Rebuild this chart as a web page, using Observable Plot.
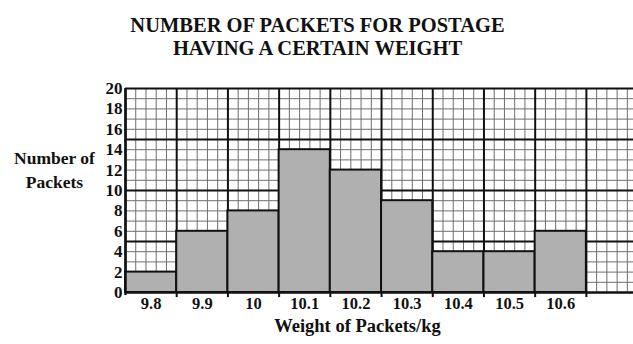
<!DOCTYPE html>
<html>
<head>
<meta charset="utf-8">
<script src="https://cdn.jsdelivr.net/npm/d3@7"></script>
<script src="https://cdn.jsdelivr.net/npm/@observablehq/plot@0.6"></script>
<style>
  html, body { margin: 0; padding: 0; background: #fff; overflow: hidden; }
  svg { display: block; }
</style>
</head>
<body>
<div id="chart"></div>
<script>
const weights = ["9.8", "9.9", "10", "10.1", "10.2", "10.3", "10.4", "10.5", "10.6"];
const counts = [2, 6, 8, 14, 12, 9, 4, 4, 6];
const yTicks = [0, 2, 4, 6, 8, 10, 12, 14, 16, 18, 20];
const titleLines = ["NUMBER OF PACKETS FOR POSTAGE", "HAVING A CERTAIN WEIGHT"];
const yLabelLines = ["Number of", "Packets"];
const xLabel = "Weight of Packets/kg";

const data = weights.map((w, i) => ({weight: w, count: counts[i], i}));
const nCols = 10;
const minorX = d3.range(0, nCols * 5 + 1).map(k => k / 5).filter(v => Math.abs(v - Math.round(v)) > 1e-9);
const minorY = d3.range(0, 21).filter(v => v % 5 !== 0);
const majorY = [5, 10, 15, 20];
const majorX = d3.range(0, nCols + 1);
const serif = "Liberation Serif";

const chart = Plot.plot({
  width: 633,
  height: 344,
  marginTop: 88,
  marginLeft: 125,
  marginRight: 0,
  marginBottom: 52,
  x: {domain: [0, 9.92], axis: null},
  y: {domain: [0, 20], axis: null},
  marks: [
    Plot.ruleX(minorX, {x: d => d, y1: 0, y2: 20, stroke: "#6e6e6e", strokeWidth: 1}),
    Plot.ruleY(minorY, {y: d => d, x1: 0, x2: 9.92, stroke: "#6e6e6e", strokeWidth: 1}),
    Plot.ruleY(majorY, {y: d => d, x1: 0, x2: 9.92, stroke: "#111", strokeWidth: 2}),
    Plot.ruleX(majorX, {x: d => d, y1: 0, y2: 20, stroke: "#111", strokeWidth: 2}),
    Plot.rect(data, {x1: d => d.i, x2: d => d.i + 1, y1: 0, y2: "count", fill: "#b0b0b0", stroke: "#111", strokeWidth: 2}),
    Plot.ruleY([0], {x1: 0, x2: 9.92, stroke: "#111", strokeWidth: 2.5}),
    Plot.ruleX([0], {y1: -0.3, y2: 20, stroke: "#111", strokeWidth: 2.5}),
    Plot.ruleX(majorX.slice(1, 10), {x: d => d, y1: -0.5, y2: 0, stroke: "#111", strokeWidth: 2}),
    Plot.text(data, {x: d => d.i + 0.5, y: 0, text: "weight", dy: 11, fontSize: 16.5, fontWeight: "bold", fontFamily: serif, fill: "#111"}),
    Plot.text(yTicks, {x: 0, y: d => d, text: d => String(d), textAnchor: "end", dx: -3, fontSize: 17, fontWeight: "bold", fontFamily: serif, fill: "#111"}),
    Plot.text([titleLines[0]], {frameAnchor: "top", text: d => d, dx: -62, dy: -71, fontSize: 20.5, fontWeight: "bold", fontFamily: serif, fill: "#111"}),
    Plot.text([titleLines[1]], {frameAnchor: "top", text: d => d, dx: -62, dy: -48, fontSize: 20.5, fontWeight: "bold", fontFamily: serif, fill: "#111"}),
    Plot.text([yLabelLines[0]], {frameAnchor: "left", text: d => d, textAnchor: "middle", dx: -71, dy: -32, fontSize: 17.5, fontWeight: "bold", fontFamily: serif, fill: "#111"}),
    Plot.text([yLabelLines[1]], {frameAnchor: "left", text: d => d, textAnchor: "middle", dx: -71, dy: -8, fontSize: 17.5, fontWeight: "bold", fontFamily: serif, fill: "#111"}),
    Plot.text([xLabel], {frameAnchor: "bottom", text: d => d, dx: -22, dy: 39, fontSize: 18.5, fontWeight: "bold", fontFamily: serif, fill: "#111"})
  ]
});
chart.setAttribute("font-family", serif);
chart.querySelectorAll("text, g").forEach(el => {
  el.setAttribute("font-family", serif);
  el.style.fontFamily = serif;
});
document.getElementById("chart").appendChild(chart);
</script>
</body>
</html>
